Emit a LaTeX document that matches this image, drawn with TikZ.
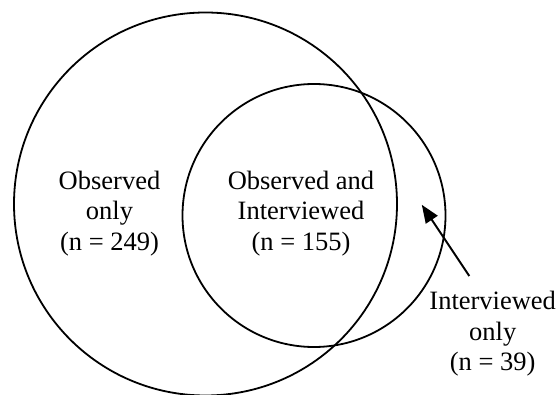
\documentclass[tikz,border=0pt]{standalone}
\usepackage{fontspec}
\setmainfont{Liberation Serif}
\usetikzlibrary{arrows.meta}
\begin{document}
\begin{tikzpicture}[x=1pt,y=-1pt,
  ring/.style={draw=black,line width=1.8pt},
  lbl/.style={align=center,inner sep=0pt,font=\fontsize{26.5}{30.5}\selectfont},
  pointer/.style={line width=1.9pt,-{Triangle[length=18pt,width=14pt]}}]
\useasboundingbox (0,0) rectangle (559,395);
\node[ring,circle,minimum size=383pt,inner sep=0pt] (obs) at (205.5,204) {};
\node[ring,circle,minimum size=263pt,inner sep=0pt] (int) at (314,215.5) {};
\node[lbl] (obsonly) at (109.5,213.6) {Observed\\only\\(n = 249)};
\node[lbl] (both) at (301,213.6) {Observed and\\Interviewed\\(n = 155)};
\node[lbl] (intonly) at (492.7,333.8) {Interviewed\\only\\(n = 39)};
\coordinate (tail) at (469.3,276);
\coordinate (tip) at (421.8,204.8);
\draw[pointer] (tail) -- (tip);
\end{tikzpicture}
\end{document}
